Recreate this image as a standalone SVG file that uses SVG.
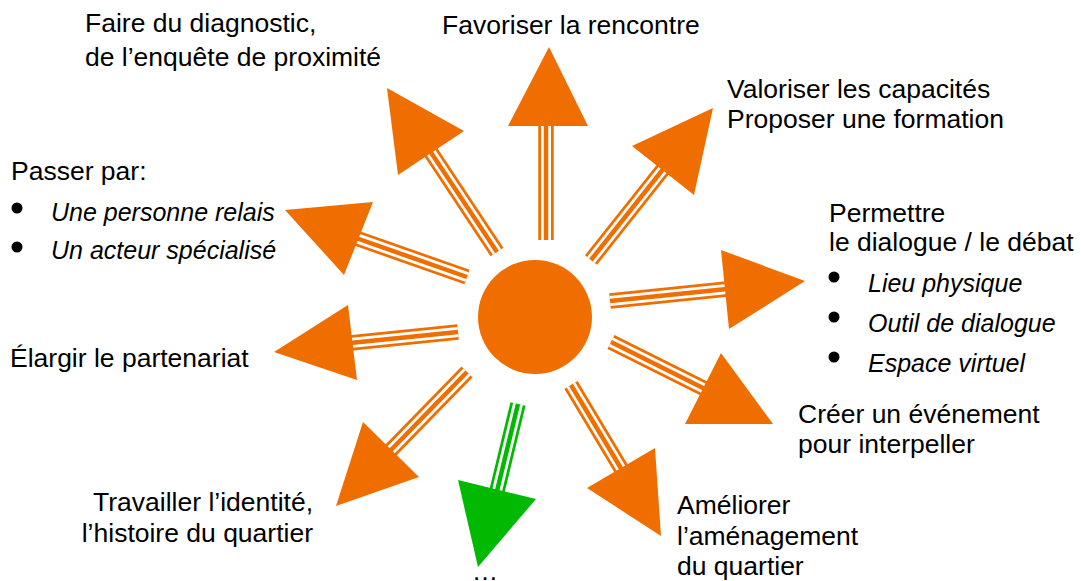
<svg xmlns="http://www.w3.org/2000/svg" width="1081" height="581" viewBox="0 0 1081 581">
<style>
text{font-family:"Liberation Sans",Arial,sans-serif;font-size:26.5px;fill:#000}
.it{font-style:italic;font-size:25px}
.o{fill:#F06E00}
.g{fill:#00B900}
.a{stroke:#F06E00;stroke-width:15.5;fill:none}
.b{stroke:#fff;stroke-width:10;fill:none}
.c{stroke:#F06E00;stroke-width:4.5;fill:none}
.ag{stroke:#00B900;stroke-width:15.5;fill:none}
.cg{stroke:#00B900;stroke-width:4.5;fill:none}
.dot{fill:#000}
</style>
<rect width="1081" height="581" fill="#fff"/>
<g id="center"><circle cx="535" cy="317" r="57" class="o"/></g>
<g id="connectors">
<g id="arrow-favoriser">
<line x1="546" y1="240" x2="546" y2="124" class="a"/><line x1="546" y1="240" x2="546" y2="124" class="b"/><line x1="546" y1="240" x2="546" y2="124" class="c"/>
<polygon points="549,47 508,126 588,126" class="o"/></g>
<g id="arrow-valoriser">
<line x1="591" y1="260" x2="664" y2="168" class="a"/><line x1="591" y1="260" x2="664" y2="168" class="b"/><line x1="591" y1="260" x2="664" y2="168" class="c"/>
<polygon points="713,108 632,146 694,195" class="o"/></g>
<g id="arrow-permettre">
<line x1="610" y1="301" x2="727" y2="289" class="a"/><line x1="610" y1="301" x2="727" y2="289" class="b"/><line x1="610" y1="301" x2="727" y2="289" class="c"/>
<polygon points="805,281 721,250 729,329" class="o"/></g>
<g id="arrow-creer">
<line x1="611" y1="342" x2="705" y2="389" class="a"/><line x1="611" y1="342" x2="705" y2="389" class="b"/><line x1="611" y1="342" x2="705" y2="389" class="c"/>
<polygon points="773,424 721,353 685,424" class="o"/></g>
<g id="arrow-ameliorer">
<line x1="571" y1="385" x2="622" y2="470" class="a"/><line x1="571" y1="385" x2="622" y2="470" class="b"/><line x1="571" y1="385" x2="622" y2="470" class="c"/>
<polygon points="661,536 655,448 587,488" class="o"/></g>
<g id="arrow-autre">
<line x1="518" y1="404" x2="497" y2="491" class="ag"/><line x1="518" y1="404" x2="497" y2="491" class="b"/><line x1="518" y1="404" x2="497" y2="491" class="cg"/>
<polygon points="478,567 458,480 536,499" class="g"/></g>
<g id="arrow-travailler">
<line x1="467" y1="372" x2="390" y2="451" class="a"/><line x1="467" y1="372" x2="390" y2="451" class="b"/><line x1="467" y1="372" x2="390" y2="451" class="c"/>
<polygon points="336,506 363,422 419,477" class="o"/></g>
<g id="arrow-elargir">
<line x1="458" y1="332" x2="350" y2="343" class="a"/><line x1="458" y1="332" x2="350" y2="343" class="b"/><line x1="458" y1="332" x2="350" y2="343" class="c"/>
<polygon points="274,352 348,305 357,380" class="o"/></g>
<g id="arrow-passer">
<line x1="467" y1="277" x2="356" y2="238" class="a"/><line x1="467" y1="277" x2="356" y2="238" class="b"/><line x1="467" y1="277" x2="356" y2="238" class="c"/>
<polygon points="285,210 373,202 344,275" class="o"/></g>
<g id="arrow-faire">
<line x1="497" y1="252" x2="430" y2="151" class="a"/><line x1="497" y1="252" x2="430" y2="151" class="b"/><line x1="497" y1="252" x2="430" y2="151" class="c"/>
<polygon points="387,88 464,131 398,175" class="o"/></g>
</g>
<g id="label-faire"><text x="85" y="32">Faire du diagnostic,</text><text x="85" y="66">de l’enquête de proximité</text></g>
<g id="label-favoriser"><text x="442" y="34">Favoriser la rencontre</text></g>
<g id="label-valoriser"><text x="727" y="98">Valoriser les capacités</text><text x="727" y="128">Proposer une formation</text></g>
<g id="label-passer"><text x="11" y="180">Passer par:</text>
<circle cx="17" cy="208" r="5.5" class="dot"/><text x="51" y="221" class="it">Une personne relais</text>
<circle cx="17" cy="247" r="5.5" class="dot"/><text x="51" y="259" class="it">Un acteur spécialisé</text></g>
<g id="label-permettre"><text x="829" y="222">Permettre</text><text x="829" y="251">le dialogue / le débat</text>
<circle cx="834" cy="277" r="5.5" class="dot"/><text x="868" y="292" class="it">Lieu physique</text>
<circle cx="834" cy="317" r="5.5" class="dot"/><text x="868" y="332" class="it">Outil de dialogue</text>
<circle cx="834" cy="357" r="5.5" class="dot"/><text x="868" y="372" class="it">Espace virtuel</text></g>
<g id="label-elargir"><text x="10" y="367">Élargir le partenariat</text></g>
<g id="label-creer"><text x="798" y="423">Créer un événement</text><text x="798" y="453">pour interpeller</text></g>
<g id="label-travailler"><text x="313" y="511" text-anchor="end">Travailler l’identité,</text><text x="313" y="542" text-anchor="end">l’histoire du quartier</text></g>
<g id="label-ameliorer"><text x="677" y="514">Améliorer</text><text x="677" y="545">l’aménagement</text><text x="677" y="575">du quartier</text></g>
<g id="label-autre"><text x="485" y="580" text-anchor="middle">…</text></g>
</svg>
